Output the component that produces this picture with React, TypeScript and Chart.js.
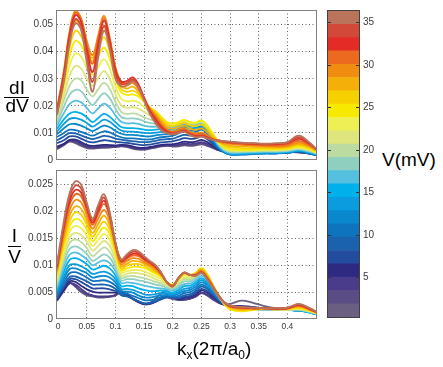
import React, { useEffect, useRef } from "react";
import { Chart, registerables } from "chart.js";
Chart.register(...registerables);

// ---------- data ----------
const kx = [-0.002, 0.01, 0.02, 0.03, 0.04, 0.05, 0.06, 0.07, 0.08, 0.09, 0.1, 0.11, 0.12, 0.13, 0.14, 0.15, 0.16, 0.17, 0.18, 0.19, 0.2, 0.21, 0.22, 0.23, 0.24, 0.25, 0.26, 0.27, 0.28, 0.29, 0.3, 0.32, 0.34, 0.36, 0.38, 0.4, 0.42, 0.44, 0.45];
const kxTicks = [0, 0.05, 0.1, 0.15, 0.2, 0.25, 0.3, 0.35, 0.4];
const didvTicks = [0, 0.01, 0.02, 0.03, 0.04, 0.05];
const ivTicks = [0, 0.005, 0.01, 0.015, 0.02, 0.025];
const vTicks = [5, 10, 15, 20, 25, 30, 35];
// colour-bar block edges (mV), bottom to top
const vEdges = [0.35, 1.91, 3.48, 5.04, 6.61, 8.17, 9.74, 11.3, 12.87, 14.43, 16.0, 17.56, 19.13, 20.69, 22.26, 23.82, 25.39, 26.95, 28.52, 30.08, 31.65, 33.21, 34.78, 36.34];
const vColors = ["#6a5f80", "#5a4c84", "#4a3c8a", "#2e2a82", "#234c9e", "#1a62ae", "#0f74be", "#0a88ce", "#0a9cdf", "#00b0ea", "#55bfe0", "#8fcfc0", "#bbdba0", "#dde57c", "#eeee55", "#f7ea00", "#f7d000", "#f4b008", "#f08c10", "#eb6a1f", "#e42b26", "#d2493a", "#b9745b"];

// dI/dV curves, in units of 1e-4, one per bias (low -> high V)
const DIDV_UNIT = 1e-4;
const didv0 = [40,55,68,62,52,44,42,44,45,46,48,50,48,42,38,38,42,46,50,52,50,50,54,52,54,58,52,44,36,32,30,34,34,31,30,30,28,24,20];
const didv1 = [43,56,70,66,56,47,44,46,48,48,49,51,50,44,40,40,43,47,51,53,52,53,57,55,57,62,55,46,36,31,30,33,33,31,29,30,28,24,19];
const didv2 = [46,58,72,70,60,50,47,49,51,51,51,53,52,46,42,41,45,49,53,55,54,56,61,59,61,66,59,48,37,31,29,32,32,30,28,29,29,24,19];
const didv3 = [50,60,74,75,66,56,52,54,56,55,54,56,55,50,46,45,48,52,56,58,58,62,68,66,68,74,66,52,38,30,28,30,30,28,27,28,30,24,18];
const didv4 = [62,73,87,87,79,69,65,69,73,71,67,65,63,60,57,55,57,61,65,67,69,74,81,78,80,87,77,59,40,29,25,27,27,27,26,27,31,24,18];
const didv5 = [73,87,99,98,91,83,77,83,89,86,79,75,72,70,67,66,67,71,75,77,79,86,93,90,92,99,87,65,43,29,23,23,25,25,25,27,31,24,18];
const didv6 = [85,100,112,110,104,96,90,98,106,102,92,84,80,80,78,76,76,80,84,86,90,98,106,102,104,112,98,72,45,28,20,20,22,24,24,26,32,24,18];
const didv7 = [95,117,132,133,127,117,107,117,127,121,108,97,93,93,91,88,87,91,94,95,98,106,114,109,111,119,103,76,47,29,21,21,23,25,25,27,33,25,19];
const didv8 = [105,133,152,155,149,137,123,136,149,141,124,109,105,105,103,100,99,101,104,103,106,114,122,117,119,125,109,80,50,31,23,23,25,27,27,29,35,27,21];
const didv9 = [115,150,172,178,172,158,140,155,170,160,140,122,118,118,116,112,110,112,114,112,114,122,130,124,126,132,114,84,52,32,24,24,26,28,28,30,36,28,22];
const didv10 = [127,173,206,219,213,192,172,191,208,194,165,141,135,136,133,127,123,123,122,118,119,126,134,128,129,135,117,87,55,35,27,27,28,30,30,32,38,30,23];
const didv11 = [138,197,241,259,254,226,203,226,247,228,190,159,153,154,151,143,137,134,130,124,123,130,138,132,133,139,121,89,57,37,29,29,31,32,32,34,40,32,25];
const didv12 = [150,220,275,300,295,260,235,262,285,262,215,178,170,172,168,158,150,145,138,130,128,134,142,136,136,142,124,92,60,40,32,32,33,34,34,36,42,34,26];
const didv13 = [158,240,312,347,338,300,275,303,328,300,243,202,193,195,190,177,165,157,145,133,130,136,144,137,137,143,125,94,63,43,35,34,35,36,36,38,45,36,27];
const didv14 = [167,260,348,393,382,340,315,344,372,337,272,226,217,219,213,196,180,168,153,137,133,138,146,139,137,145,127,96,65,45,37,36,36,38,38,40,47,38,29];
const didv15 = [175,280,385,440,425,380,355,385,415,375,300,250,240,242,235,215,195,180,160,140,135,140,148,140,138,146,128,98,68,48,40,38,38,40,40,42,50,40,30];
const didv16 = [180,297,415,477,458,400,366,411,454,401,315,263,252,256,244,218,193,175,152,131,125,131,138,128,125,131,115,91,68,53,47,44,43,44,43,45,55,43,33];
const didv17 = [185,313,446,515,491,420,377,436,493,426,329,275,264,271,253,222,192,170,143,121,115,121,128,116,111,117,103,83,68,59,53,50,49,48,47,49,59,47,35];
const didv18 = [190,330,476,552,524,440,388,462,532,452,344,288,276,285,262,225,190,165,135,112,105,112,118,104,98,102,90,76,68,64,60,56,54,52,50,52,64,50,38];
const didv19 = [185,322,468,544,517,425,356,446,524,446,337,289,284,295,271,228,186,158,128,108,102,107,113,100,93,96,87,76,70,66,62,59,57,55,54,57,71,54,39];
const didv20 = [180,315,460,535,510,410,325,430,515,440,330,290,292,305,280,230,182,150,122,105,98,102,108,96,88,90,84,76,72,68,65,62,60,58,58,62,78,58,40];
const didv21 = [172,302,445,520,495,385,288,405,496,425,315,281,283,298,274,225,176,142,116,102,96,101,106,94,86,88,82,75,72,69,66,63,61,59,60,64,84,60,41];
const didv22 = [165,290,430,505,480,360,252,380,478,410,300,272,275,290,268,220,170,135,110,98,95,100,105,92,84,86,80,74,72,70,68,64,62,60,62,66,90,62,42];

// I/V curves, in units of 1e-4, one per bias (low -> high V)
const IV_UNIT = 1e-4;
const iv0 = [38,56,67,60,50,44,42,40,40,41,44,50,46,38,32,27,28,33,38,40,37,35,36,38,42,48,44,36,30,27,28,34,30,24,20,18,17,15,13];
const iv1 = [37,54,67,61,52,46,43,41,41,42,44,50,45,37,31,28,30,38,48,52,44,37,36,38,42,48,44,37,31,27,25,24,22,20,19,18,17,15,12];
const iv2 = [34,52,66,64,56,48,44,42,42,42,45,52,46,38,32,28,28,32,38,42,40,36,36,38,42,49,45,38,31,26,24,24,22,20,19,18,17,15,12];
const iv3 = [36,55,70,69,62,55,51,49,49,49,49,49,45,38,32,28,29,32,38,41,40,37,39,41,45,53,49,41,33,27,24,23,21,20,19,18,17,14,11];
const iv4 = [38,59,74,74,69,63,57,57,57,55,52,47,43,38,33,29,29,33,37,41,40,39,41,43,49,56,52,44,34,27,23,23,21,19,18,17,16,14,11];
const iv5 = [40,62,78,79,75,70,64,64,64,62,56,44,42,38,33,29,30,33,37,40,40,40,44,46,52,60,56,47,36,28,23,22,20,19,18,17,16,13,10];
const iv6 = [43,68,85,87,83,77,71,71,72,69,62,48,47,43,39,35,35,37,41,43,42,43,48,50,56,64,59,49,37,28,23,21,20,19,18,17,16,13,10];
const iv7 = [47,74,93,94,90,85,77,79,80,77,68,52,51,49,44,40,40,42,44,45,44,47,52,54,60,68,63,52,39,29,22,20,19,18,18,17,16,12,9];
const iv8 = [50,80,100,102,98,92,84,86,88,84,74,56,56,54,50,46,45,46,48,48,46,50,56,58,64,72,66,54,40,29,22,19,19,18,18,17,16,12,9];
const iv9 = [54,88,110,113,109,102,92,95,99,94,81,61,62,61,57,54,52,52,53,51,49,54,61,62,68,76,69,56,41,29,21,18,19,18,18,17,16,12,9];
const iv10 = [58,97,120,124,119,111,100,105,109,104,89,67,68,67,65,62,60,58,57,55,53,58,65,66,72,80,73,58,41,28,21,18,18,18,18,17,17,13,10];
const iv11 = [62,105,130,135,130,121,108,114,120,114,96,72,74,74,72,70,67,64,62,58,56,62,70,70,76,84,76,60,42,28,20,17,18,18,18,17,17,13,10];
const iv12 = [67,113,141,148,143,132,117,125,133,125,103,77,79,80,78,76,73,69,66,61,58,65,74,73,79,87,78,61,43,28,20,16,18,18,18,17,18,14,10];
const iv13 = [71,120,151,160,156,144,127,136,145,136,111,81,84,86,85,83,79,74,70,63,60,68,77,76,81,90,80,62,43,28,19,16,18,19,18,18,19,14,11];
const iv14 = [76,128,162,173,169,155,136,147,158,147,118,86,89,91,91,89,84,79,74,66,62,71,81,79,84,92,82,63,44,28,19,15,17,19,18,18,19,15,11];
const iv15 = [80,135,172,186,182,166,145,158,170,158,125,90,94,97,97,95,90,84,78,68,64,74,84,82,86,95,84,64,44,28,18,14,17,19,18,18,20,15,11];
const iv16 = [84,143,182,198,194,175,153,168,181,166,129,94,99,102,102,99,93,87,80,68,63,75,85,82,85,93,82,63,44,29,20,16,18,19,18,19,21,16,12];
const iv17 = [88,150,192,209,205,184,160,177,192,174,133,98,103,108,107,103,97,90,81,68,63,75,85,82,84,92,80,62,44,30,21,18,19,20,19,19,23,17,12];
const iv18 = [91,158,202,221,217,193,168,187,203,182,136,102,108,113,112,106,100,93,83,68,62,76,86,82,83,90,78,61,43,30,23,19,19,20,19,20,24,17,13];
const iv19 = [95,165,212,232,228,202,175,196,214,190,140,106,112,118,117,110,103,96,84,68,62,76,86,82,82,88,76,60,43,31,24,21,20,20,19,20,25,18,13];
const iv20 = [97,171,219,240,235,207,179,201,220,193,141,108,115,121,120,112,105,97,85,68,61,76,86,82,81,87,75,59,43,31,24,21,20,20,19,20,26,18,13];
const iv21 = [100,176,227,248,243,211,183,207,226,195,141,109,117,125,123,115,106,99,85,68,61,76,86,82,81,87,75,59,42,31,25,22,21,20,20,21,27,19,14];
const iv22 = [102,182,234,256,250,216,187,212,232,198,142,111,120,128,126,117,108,100,86,68,60,76,86,82,80,86,74,58,42,31,25,22,21,20,20,21,28,20,14];

const didvSeries = [didv0, didv1, didv2, didv3, didv4, didv5, didv6, didv7, didv8, didv9, didv10, didv11, didv12, didv13, didv14, didv15, didv16, didv17, didv18, didv19, didv20, didv21, didv22];
const ivSeries = [iv0, iv1, iv2, iv3, iv4, iv5, iv6, iv7, iv8, iv9, iv10, iv11, iv12, iv13, iv14, iv15, iv16, iv17, iv18, iv19, iv20, iv21, iv22];

// ---------- styling ----------
const FONT = "'Liberation Sans', Arial, Helvetica, sans-serif";
const GRID = "rgba(70,70,70,0.85)";
const TICK_COLOR = "#3a3a3a";

function makeDatasets(series: number[][], unit: number) {
  return series.map((vals, k) => ({
    data: vals.map((v, i) => ({ x: kx[i], y: v * unit })),
    borderColor: vColors[k],
    borderWidth: 1.8,
    pointRadius: 0,
    tension: 0.4,
    fill: false,
    order: series.length - k,
  }));
}

const framePlugin = {
  id: "frame",
  afterDraw(chart: any) {
    const { ctx, chartArea: a } = chart;
    ctx.save();
    ctx.strokeStyle = "#808080";
    ctx.lineWidth = 1;
    ctx.setLineDash([]);
    ctx.strokeRect(Math.round(a.left) - 0.5, Math.round(a.top) + 0.5, Math.round(a.right - a.left) + 1, Math.round(a.bottom - a.top) - 1);
    ctx.restore();
  },
};

const gridColor = (c: any) => (c.tick && c.tick.value === 0 ? "rgba(0,0,0,0)" : GRID);

function panelConfig(series: number[][], unit: number, yMax: number, yTicks: number[], showX: boolean, xHeight: number, padTop: number): any {
  return {
    type: "line",
    data: { datasets: makeDatasets(series, unit) },
    options: {
      animation: false,
      responsive: false,
      maintainAspectRatio: false,
      events: [],
      layout: { padding: { top: padTop, right: 14, left: 0, bottom: 0 } },
      plugins: { legend: { display: false }, tooltip: { enabled: false } },
      scales: {
        x: {
          type: "linear",
          min: -0.002,
          max: 0.45,
          afterBuildTicks: (s: any) => { s.ticks = kxTicks.map((v) => ({ value: v })); },
          afterFit: (s: any) => { s.height = xHeight; },
          ticks: { display: showX, color: TICK_COLOR, font: { family: FONT, size: 8.5 }, padding: 3, maxRotation: 0, autoSkip: false, callback: (v: number) => String(v) },
          grid: { color: gridColor, drawTicks: false, lineWidth: 1 },
          border: { display: false, dash: [1, 2.5] },
        },
        y: {
          min: 0,
          max: yMax,
          afterBuildTicks: (s: any) => { s.ticks = yTicks.map((v) => ({ value: v })); },
          afterFit: (s: any) => { s.width = 57; },
          ticks: { color: TICK_COLOR, font: { family: FONT, size: 10 }, padding: 4, autoSkip: false, callback: (v: number) => String(v) },
          grid: { color: gridColor, drawTicks: false, lineWidth: 1 },
          border: { display: false, dash: [1, 2.5] },
        },
      },
    },
    plugins: [framePlugin],
  };
}

// frame, inward ticks and tick labels of the colour bar (positions from its y scale)
const colorbarPlugin = {
  id: "cbarFrame",
  afterDraw(chart: any) {
    const { ctx, chartArea: a } = chart;
    const ys = chart.scales.y;
    ctx.save();
    ctx.strokeStyle = "#333";
    ctx.lineWidth = 1;
    ctx.fillStyle = TICK_COLOR;
    ctx.font = `10px ${FONT}`;
    ctx.textAlign = "left";
    ctx.textBaseline = "middle";
    for (const v of vTicks) {
      const py = Math.round(ys.getPixelForValue(v)) + 0.5;
      ctx.beginPath();
      ctx.moveTo(a.left, py);
      ctx.lineTo(a.left + 3, py);
      ctx.moveTo(a.right - 3, py);
      ctx.lineTo(a.right, py);
      ctx.stroke();
      ctx.fillText(String(v), a.right + 4, py);
    }
    ctx.strokeStyle = "#404040";
    ctx.strokeRect(Math.round(a.left) - 0.5, Math.round(a.top) - 0.5, Math.round(a.right - a.left) + 1, Math.round(a.bottom - a.top) + 1);
    ctx.restore();
  },
};

function colorbarConfig(): any {
  return {
    type: "bar",
    data: {
      labels: [""],
      datasets: vColors.map((c, k) => ({
        data: [[vEdges[k], vEdges[k + 1]]],
        backgroundColor: c,
        borderWidth: 0,
        barPercentage: 1,
        categoryPercentage: 1,
        grouped: false,
      })),
    },
    options: {
      animation: false,
      responsive: false,
      maintainAspectRatio: false,
      events: [],
      layout: { padding: { top: 11, bottom: 13, left: 8, right: 21 } },
      plugins: { legend: { display: false }, tooltip: { enabled: false } },
      scales: {
        x: { display: false },
        y: {
          display: false,
          min: vEdges[0],
          max: vEdges[vEdges.length - 1],
        },
      },
    },
    plugins: [colorbarPlugin],
  };
}

const abs = (left: number, top: number, extra: any = {}) => ({
  position: "absolute" as const,
  left,
  top,
  fontFamily: FONT,
  color: "#000",
  whiteSpace: "nowrap" as const,
  ...extra,
});

export default function App() {
  const topRef = useRef<HTMLCanvasElement>(null);
  const botRef = useRef<HTMLCanvasElement>(null);
  const barRef = useRef<HTMLCanvasElement>(null);

  useEffect(() => {
    const charts: Chart[] = [];
    charts.push(new Chart(topRef.current as HTMLCanvasElement, panelConfig(didvSeries, DIDV_UNIT, 0.0554, didvTicks, false, 6, 10)));
    charts.push(new Chart(botRef.current as HTMLCanvasElement, panelConfig(ivSeries, IV_UNIT, 0.0277, ivTicks, true, 21, 4)));
    charts.push(new Chart(barRef.current as HTMLCanvasElement, colorbarConfig()));
    return () => charts.forEach((c) => c.destroy());
  }, []);

  const fs = 19;
  return (
    <div style={{ position: "absolute", left: 0, top: 0, width: 443, height: 367, background: "#fff", overflow: "hidden" }}>
      <canvas ref={topRef} width={330} height={170} style={{ position: "absolute", left: 0, top: 0, width: 330, height: 170 }} />
      <canvas ref={botRef} width={330} height={180} style={{ position: "absolute", left: 0, top: 160, width: 330, height: 180 }} />
      <canvas ref={barRef} width={60} height={330} style={{ position: "absolute", left: 320, top: 0, width: 60, height: 330 }} />

      {/* dI/dV */}
      <div style={abs(4, 78, { width: 26, textAlign: "center", fontSize: fs, lineHeight: fs + "px" })}>dI</div>
      <div style={abs(4, 97, { width: 25, height: 0, borderTop: "1.5px solid #000" })} />
      <div style={abs(4, 96, { width: 26, textAlign: "center", fontSize: fs, lineHeight: fs + "px" })}>dV</div>

      {/* I/V */}
      <div style={abs(7, 226, { width: 15, textAlign: "center", fontSize: fs, lineHeight: fs + "px" })}>I</div>
      <div style={abs(8, 246, { width: 13, height: 0, borderTop: "1.5px solid #000" })} />
      <div style={abs(7, 247, { width: 15, textAlign: "center", fontSize: fs, lineHeight: fs + "px" })}>V</div>

      {/* colour bar label */}
      <div style={abs(382, 150, { fontSize: fs, lineHeight: fs + "px" })}>V(mV)</div>

      {/* x label */}
      <div style={abs(177, 339, { fontSize: fs, lineHeight: fs + "px" })}>
        k<span style={{ fontSize: 12, verticalAlign: "-0.35em" }}>x</span>(2π/a<span style={{ fontSize: 12, verticalAlign: "-0.35em" }}>0</span>)
      </div>
    </div>
  );
}
